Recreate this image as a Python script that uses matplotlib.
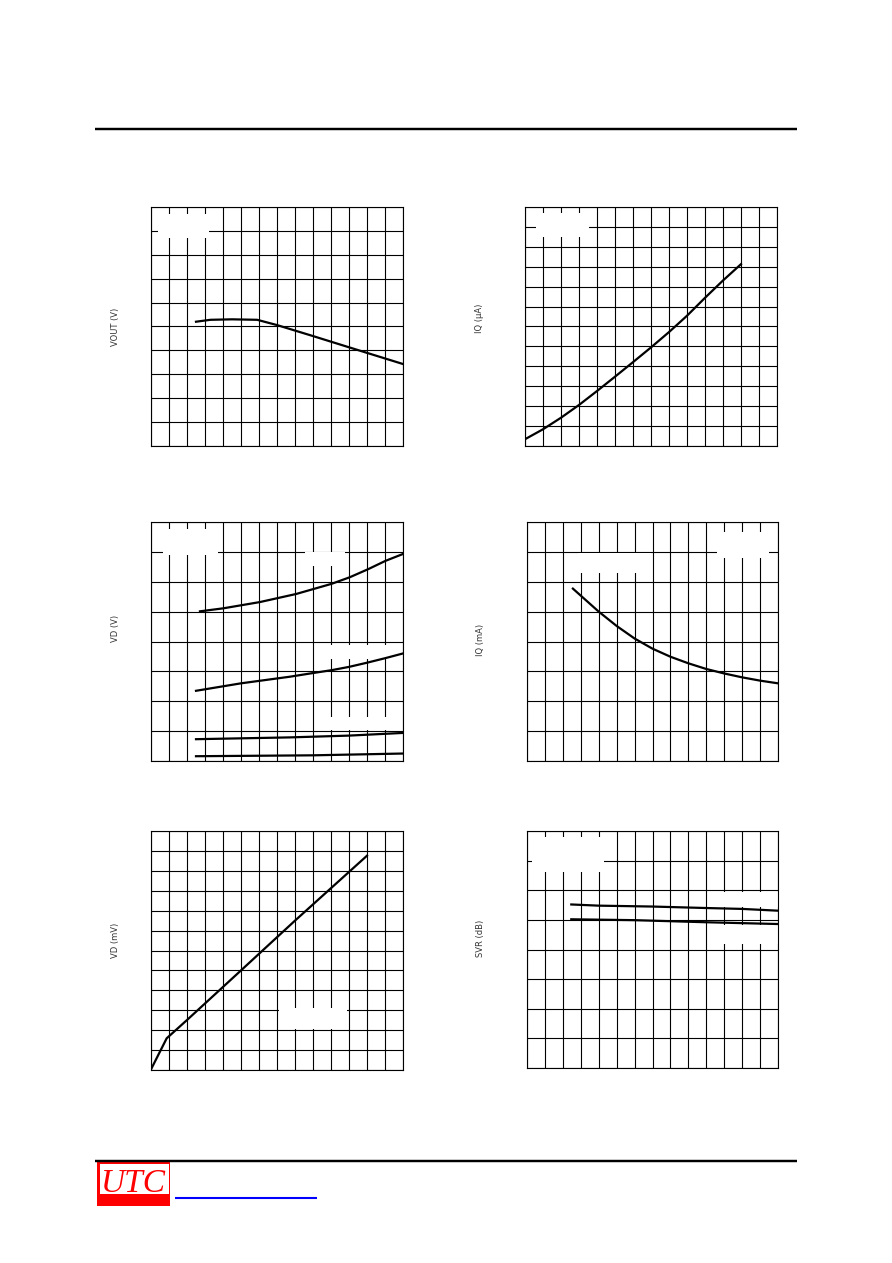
import matplotlib
matplotlib.use("Agg")
import matplotlib.pyplot as plt
from matplotlib.patches import Rectangle

# page size in pixels (figure is drawn at 100 dpi)
W, H = 892, 1263

# curve data, in grid units (x = column 0..14, y = row from the bottom)
vout_x = [2.5, 3.3, 4.5, 5.9, 7.0, 9.0, 11.0, 14.0]
vout_y = [5.2, 5.28, 5.3, 5.28, 5.06, 4.6, 4.13, 3.43]

iq_ua_x = [0, 1, 2, 3, 4, 5, 6, 7, 8, 9, 10, 11, 12]
iq_ua_y = [0.34, 0.84, 1.42, 2.06, 2.76, 3.48, 4.21, 4.95, 5.72, 6.54, 7.44, 8.31, 9.13]

vd_a_x = [2.72, 4.01, 6.05, 8.06, 10.03, 11.04, 12.06, 13.03, 14.0]
vd_a_y = [5.01, 5.11, 5.32, 5.59, 5.93, 6.15, 6.42, 6.70, 6.93]
vd_b_x = [2.5, 5.0, 7.7, 9.06, 10.03, 11.0, 12.0, 13.0, 14.0]
vd_b_y = [2.35, 2.6, 2.82, 2.95, 3.04, 3.15, 3.29, 3.44, 3.6]
vd_c_x = [2.5, 7.7, 11.0, 14.0]
vd_c_y = [0.73, 0.79, 0.85, 0.94]
vd_d_x = [2.5, 9.0, 11.5, 14.0]
vd_d_y = [0.16, 0.19, 0.22, 0.25]

iq_ma_x = [2.56, 4, 5, 6, 7, 8, 9, 10, 11, 12, 13, 14]
iq_ma_y = [5.77, 5.0, 4.52, 4.1, 3.76, 3.49, 3.27, 3.08, 2.93, 2.8, 2.69, 2.6]

vd_mv_x = [0, 0.87, 2.0, 5.0, 8.0, 12.0]
vd_mv_y = [0.03, 1.59, 2.51, 5.0, 7.5, 10.76]

svr_a_x = [2.47, 4, 7, 10, 12, 14]
svr_a_y = [5.52, 5.48, 5.45, 5.40, 5.37, 5.31]
svr_b_x = [2.47, 6, 10, 14]
svr_b_y = [5.02, 4.99, 4.92, 4.86]

ylabels = ['VOUT (V)', 'IQ (μA)', 'VD (V)', 'IQ (mA)', 'VD (mV)', 'SVR (dB)']

fig = plt.figure(figsize=(W / 100, H / 100), dpi=100)

# page decoration, drawn in pixel coordinates
page = fig.add_axes([0, 0, 1, 1], zorder=-1)
page.set_xlim(0, W)
page.set_ylim(H, 0)
page.axis('off')
page.plot([95, 797], [128.5, 128.5], color='black', lw=1.75, solid_capstyle='butt')
page.plot([95, 797], [1161.2, 1161.2], color='black', lw=1.75, solid_capstyle='butt')
page.add_patch(Rectangle((97.3, 1160), 72.7, 45.7, facecolor='red', edgecolor='none'))
page.add_patch(Rectangle((100, 1164), 69, 30, facecolor='white', edgecolor='none'))
page.text(133.5, 1191.7, 'UTC', color='red', fontsize=24, fontstyle='italic',
          family='Liberation Serif', ha='center', va='baseline')
page.plot([175, 317], [1198, 1198], color='blue', lw=1.5, solid_capstyle='butt')


def panel(left, top, right, bottom, nrows):
    ax = fig.add_axes([left / W, 1 - bottom / H, (right - left) / W, (bottom - top) / H])
    ax.set_xlim(0, 14)
    ax.set_ylim(0, nrows)
    ax.set_xticks(range(15))
    ax.set_yticks(range(nrows + 1))
    ax.tick_params(length=0, labelbottom=False, labelleft=False)
    ax.grid(True, color='black', lw=0.8)
    for s in ax.spines.values():
        s.set_linewidth(0.8)
    return ax


def blank(ax, x0, x1, y0, y1):
    # white label box that hides the grid (its text is blank in the original)
    ax.add_patch(Rectangle((x0, y0), x1 - x0, y1 - y0, facecolor='white',
                           edgecolor='none', zorder=1.8))


def curve(ax, x, y):
    ax.plot(x, y, color='black', lw=1.6, zorder=2.2)


ax1 = panel(151, 207, 403, 446, 10)
blank(ax1, 0.4, 3.2, 8.7, 9.7)
curve(ax1, vout_x, vout_y)

ax2 = panel(525, 207, 777, 446, 12)
blank(ax2, 0.61, 3.56, 10.47, 11.7)
curve(ax2, iq_ua_x, iq_ua_y)

ax3 = panel(151, 522, 403, 761, 8)
blank(ax3, 0.67, 3.72, 6.91, 7.75)
blank(ax3, 8.55, 10.77, 6.54, 6.98)
blank(ax3, 9.4, 13.5, 3.42, 3.89)
blank(ax3, 9.4, 13.5, 1.04, 1.48)
curve(ax3, vd_a_x, vd_a_y)
curve(ax3, vd_b_x, vd_b_y)
curve(ax3, vd_c_x, vd_c_y)
curve(ax3, vd_d_x, vd_d_y)

ax4 = panel(527, 522, 778, 761, 8)
blank(ax4, 10.58, 13.51, 6.81, 7.65)
blank(ax4, 2.84, 6.9, 6.3, 6.95)
curve(ax4, iq_ma_x, iq_ma_y)

ax5 = panel(151, 831, 403, 1070, 12)
blank(ax5, 7.1, 10.88, 2.05, 3.1)
curve(ax5, vd_mv_x, vd_mv_y)

ax6 = panel(527, 831, 778, 1068, 8)
blank(ax6, 0.28, 4.32, 6.6, 7.81)
blank(ax6, 10.3, 14, 5.43, 5.95)
blank(ax6, 10.3, 14, 4.19, 4.83)
curve(ax6, svr_a_x, svr_a_y)
curve(ax6, svr_b_x, svr_b_y)

# rotated y-axis titles, placed in pixels
label_pos = [(115, 327), (479, 318), (116, 628), (480, 640), (115, 940), (480, 938)]
for (px, py), txt in zip(label_pos, ylabels):
    fig.text(px / W, 1 - py / H, txt, rotation=90, ha='center', va='center',
             fontsize=6, color='#333333')

fig.savefig('out.png', dpi=100)
